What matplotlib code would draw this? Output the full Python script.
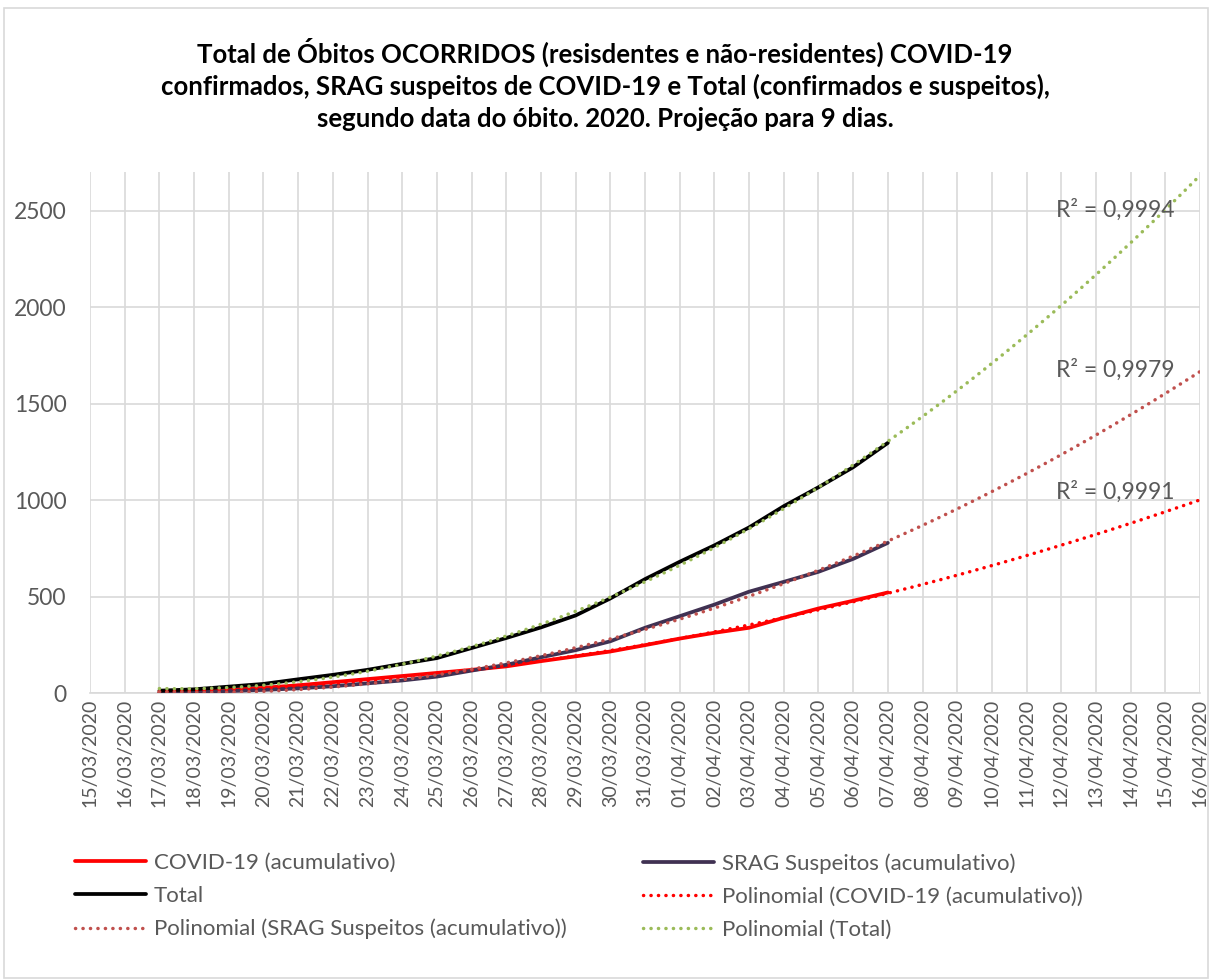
import numpy as np
import matplotlib
matplotlib.use('Agg')
import matplotlib.pyplot as plt
from matplotlib.patches import Rectangle

plt.rcParams['font.family'] = ['Lato', 'DejaVu Sans']

# eixo x: 15/03 a 16/04 (projeção de 9 dias após o último dado)
datas = ['15/03/2020', '16/03/2020', '17/03/2020', '18/03/2020', '19/03/2020',
         '20/03/2020', '21/03/2020', '22/03/2020', '23/03/2020', '24/03/2020',
         '25/03/2020', '26/03/2020', '27/03/2020', '28/03/2020', '29/03/2020',
         '30/03/2020', '31/03/2020', '01/04/2020', '02/04/2020', '03/04/2020',
         '04/04/2020', '05/04/2020', '06/04/2020', '07/04/2020', '08/04/2020',
         '09/04/2020', '10/04/2020', '11/04/2020', '12/04/2020', '13/04/2020',
         '14/04/2020', '15/04/2020', '16/04/2020']
inicio = 2  # 17/03/2020
fim = 23    # 07/04/2020

covid = [2, 7, 16, 27, 40, 56, 72, 88, 104, 120, 138, 165, 190, 215, 248,
         282, 312, 338, 390, 438, 478, 521]
srag = [0, 3, 10, 16, 24, 35, 50, 65, 85, 116, 146, 185, 222, 268, 338,
        398, 458, 525, 576, 628, 695, 778]
total = [12, 19, 33, 47, 71, 94, 120, 151, 181, 233, 285, 340, 402, 490, 590,
         680, 765, 858, 968, 1066, 1170, 1296]

r2_labels = ['R² = 0,9991', 'R² = 0,9979', 'R² = 0,9994']
r2_y = [1042, 1675, 2505]

cinza = '#595959'
grade = '#D9D9D9'

fig = plt.figure(figsize=(12.1, 9.8), dpi=100)
fig.patches.append(Rectangle((0.003, 0.002), 0.995, 0.99, transform=fig.transFigure,
                             fill=False, edgecolor=grade, lw=1.2))
ax = fig.add_axes([90/1210, 1-693/980, 1110/1210, 521/980])

x = np.arange(inicio, fim+1)
xs = np.linspace(inicio, len(datas)-1, 300)

l1, = ax.plot(x, covid, color='#FF0000', lw=2.7, solid_capstyle='round', zorder=3)
l2, = ax.plot(x, srag, color='#403152', lw=2.7, solid_capstyle='round', zorder=3)
l3, = ax.plot(x, total, color='black', lw=2.7, solid_capstyle='round', zorder=3)

dots = (0, (0.05, 2.1))
p1 = np.polyfit(x, covid, 2)
p2 = np.polyfit(x, srag, 2)
p3 = np.polyfit(x, total, 2)
t1, = ax.plot(xs, np.polyval(p1, xs), color='#FF0000', lw=2.5, ls=dots,
              dash_capstyle='round', zorder=4)
t2, = ax.plot(xs, np.polyval(p2, xs), color='#C0504D', lw=2.5, ls=dots,
              dash_capstyle='round', zorder=4)
t3, = ax.plot(xs, np.polyval(p3, xs), color='#9BBB59', lw=2.5, ls=dots,
              dash_capstyle='round', zorder=4)

for lab, yy in zip(r2_labels, r2_y):
    ax.text(27.85, yy, lab, color=cinza, fontsize=16.5, va='center', ha='left', zorder=5)

ax.set_xlim(0, len(datas)-1)
ax.set_ylim(0, 2700)
ax.set_xticks(range(len(datas)))
ax.set_xticklabels(datas, rotation=90, color=cinza, fontsize=14)
ax.set_yticks([0, 500, 1000, 1500, 2000, 2500])
ax.set_yticklabels(['0', '500', '1000', '1500', '2000', '2500'], color=cinza, fontsize=16.5)
ax.tick_params(axis='x', length=0, pad=4)
ax.tick_params(axis='y', length=0, pad=17)
ax.grid(True, color=grade, lw=1.2)
ax.set_axisbelow(True)
for s in ['top', 'right', 'left']:
    ax.spines[s].set_visible(False)
ax.spines['bottom'].set_color(grade)
ax.spines['bottom'].set_linewidth(1.2)

fig.text(0.5, 1-52/980, 'Total de Óbitos OCORRIDOS (resisdentes e não-residentes) COVID-19',
         ha='center', va='center', fontsize=18.5, fontweight='bold')
fig.text(0.5, 1-86/980, 'confirmados, SRAG suspeitos de COVID-19 e Total (confirmados e suspeitos),',
         ha='center', va='center', fontsize=18.5, fontweight='bold')
fig.text(0.5, 1-119/980, 'segundo data do óbito. 2020. Projeção para 9 dias.',
         ha='center', va='center', fontsize=18.5, fontweight='bold')

leg_kw = dict(loc='upper left', frameon=False, fontsize=16, handlelength=3.2,
              handletextpad=0.35, labelspacing=0.58, borderpad=0, borderaxespad=0,
              labelcolor=cinza)
fig.legend([l1, l3, t2], ['COVID-19 (acumulativo)', 'Total',
                          'Polinomial (SRAG Suspeitos (acumulativo))'],
           bbox_to_anchor=(75/1210, 1-853/980), **leg_kw)
fig.legend([l2, t1, t3], ['SRAG Suspeitos (acumulativo)',
                          'Polinomial (COVID-19 (acumulativo))', 'Polinomial (Total)'],
           bbox_to_anchor=(643/1210, 1-853/980), **leg_kw)

fig.savefig('out.png', dpi=100)
